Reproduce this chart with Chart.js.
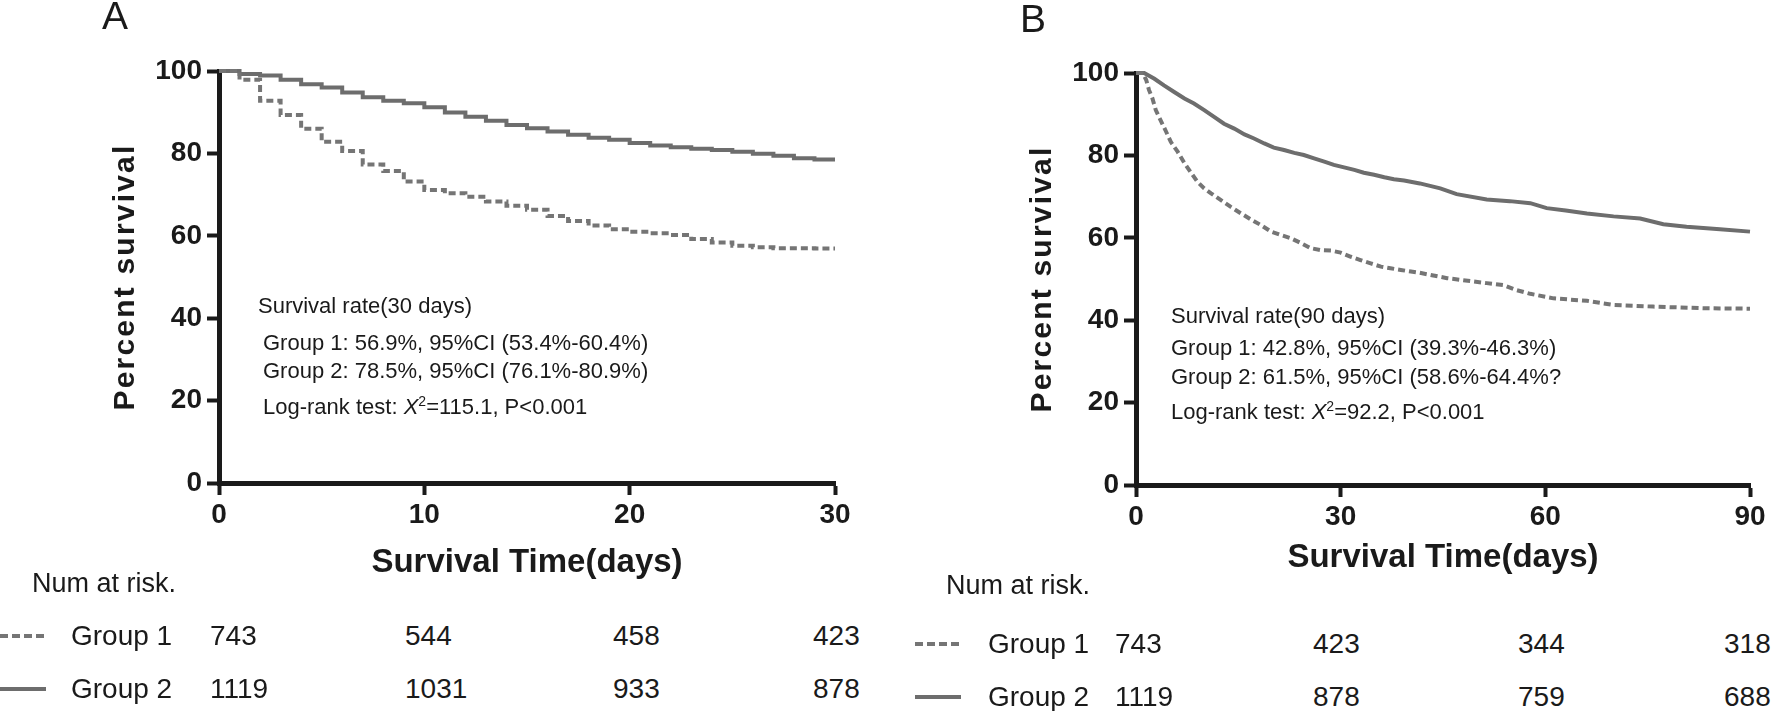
<!DOCTYPE html>
<html>
<head>
<meta charset="utf-8">
<script src="https://cdn.jsdelivr.net/npm/chart.js@4.4.1/dist/chart.umd.min.js"></script>
<style>
  body { margin: 0; background: #fff; width: 1776px; height: 711px; overflow: hidden; position: relative;
         font-family: 'Liberation Sans', Arial, sans-serif; color: #1a1a1a; }
  canvas { position: absolute; top: 0; }
  .t { position: absolute; white-space: nowrap; line-height: 1; }
  .note { font-size: 22px; }
  .head { font-size: 27px; }
  .risk { font-size: 28px; }
  .panel { font-size: 39px; }
  .dash { position: absolute; height: 4px; background: repeating-linear-gradient(90deg, #757575 0 8px, transparent 8px 12px); }
  .solid { position: absolute; height: 4px; background: #6d6d6d; }
</style>
</head>
<body>
<canvas id="chartA" width="880" height="600" style="left:0"></canvas>
<canvas id="chartB" width="876" height="600" style="left:900px"></canvas>
<div id="overlay"></div>
<script>
// panel A, 30 days (steps at whole days)
const daysA = [0, 1, 2, 3, 4, 5, 6, 7, 8, 9, 10, 11, 12, 13, 14, 15, 16, 17, 18, 19, 20, 21, 22, 23, 24, 25, 26, 27, 28, 29, 30];
const group1A = [100, 97.9, 92.8, 89.3, 86.0, 82.8, 80.6, 77.3, 75.7, 73.2, 71.1, 70.3, 69.5, 68.3, 67.3, 66.3, 64.8, 63.6, 62.5, 61.6, 61.0, 60.6, 60.2, 59.2, 58.4, 57.6, 57.2, 57.0, 57.0, 56.9, 56.9];
const group2A = [100, 99.3, 98.9, 97.9, 96.8, 96.0, 94.8, 93.6, 92.8, 92.2, 91.2, 89.9, 88.9, 87.9, 86.9, 86.1, 85.3, 84.5, 83.8, 83.3, 82.5, 81.9, 81.5, 81.1, 80.8, 80.4, 79.9, 79.4, 78.8, 78.5, 78.5];

// panel B, 90 days
const daysB1 = [0, 1.0, 1.5, 1.9, 2.4, 2.9, 3.7, 4.4, 5.1, 6.1, 7.1, 8.1, 9.0, 10.0, 11.0, 12.4, 13.9, 15.4, 16.8, 18.3, 19.8, 21.2, 22.7, 24.2, 25.6, 27.1, 28.6, 30.0, 31.5, 32.9, 34.4, 35.9, 37.3, 38.8, 40.3, 41.6, 45.6, 51.4, 53.9, 55.8, 57.8, 61.2, 66.1, 70.0, 75.8, 83.2, 90];
const group1B = [100, 100, 98.3, 95.9, 93.9, 91.0, 88.2, 85.8, 83.3, 80.9, 78.1, 75.7, 73.6, 72.0, 70.8, 69.2, 67.5, 65.9, 64.5, 63.1, 61.5, 60.7, 59.9, 58.7, 57.5, 57.0, 56.9, 56.4, 55.4, 54.6, 53.8, 53.0, 52.6, 52.2, 51.8, 51.5, 50.2, 49.0, 48.5, 47.3, 46.4, 45.3, 44.7, 43.7, 43.3, 42.9, 42.8];
const daysB2 = [0, 1.2, 2.7, 4.1, 5.6, 7.1, 8.5, 10.0, 11.5, 12.9, 14.4, 15.9, 17.3, 18.8, 20.2, 21.7, 23.2, 24.6, 26.1, 27.6, 29.0, 30.5, 32.0, 33.4, 34.9, 36.4, 37.8, 39.3, 41.6, 44.6, 47.0, 51.4, 54.8, 57.8, 60.2, 63.0, 66.1, 70.0, 73.9, 77.3, 80.7, 85.6, 90];
const group2B = [100, 100, 98.6, 97.0, 95.4, 93.8, 92.6, 91.0, 89.3, 87.7, 86.5, 85.1, 84.1, 82.9, 81.9, 81.3, 80.6, 80.1, 79.3, 78.5, 77.7, 77.1, 76.5, 75.8, 75.3, 74.7, 74.2, 73.9, 73.2, 72.0, 70.6, 69.3, 68.9, 68.4, 67.2, 66.6, 65.9, 65.2, 64.7, 63.3, 62.7, 62.1, 61.5];

// numbers at risk
const riskA1 = [743, 544, 458, 423];
const riskA2 = [1119, 1031, 933, 878];
const riskB1 = [743, 423, 344, 318];
const riskB2 = [1119, 878, 759, 688];

const notesA = ['Survival rate(30 days)', 'Group 1: 56.9%, 95%CI (53.4%-60.4%)', 'Group 2: 78.5%, 95%CI (76.1%-80.9%)', 'Log-rank test: <i>X</i><sup style="font-size:14px">2</sup>=115.1, P&lt;0.001'];
const notesB = ['Survival rate(90 days)', 'Group 1: 42.8%, 95%CI (39.3%-46.3%)', 'Group 2: 61.5%, 95%CI (58.6%-64.4%?', 'Log-rank test: <i>X</i><sup style="font-size:14px">2</sup>=92.2, P&lt;0.001'];

Chart.defaults.font.family = "'Liberation Sans', Arial, sans-serif";
Chart.defaults.color = '#1a1a1a';

// spaced letters on the vertical axis title
const origDrawTitle = Chart.LinearScale.prototype.drawTitle;
Chart.LinearScale.prototype.drawTitle = function () {
  this.ctx.save();
  if (!this.isHorizontal()) this.ctx.letterSpacing = '2.2px';
  origDrawTitle.call(this);
  this.ctx.restore();
};

const toPoints = (days, vals) => days.map((d, i) => ({ x: d, y: vals[i] }));

function makeChart(id, p) {
  return new Chart(document.getElementById(id), {
    type: 'line',
    data: {
      datasets: [{
        label: 'Group 1',
        data: toPoints(p.days1, p.vals1),
        borderColor: '#757575',
        borderWidth: 4,
        borderDash: [7, 4],
        stepped: p.stepped,
        pointRadius: 0,
        clip: false
      }, {
        label: 'Group 2',
        data: toPoints(p.days2, p.vals2),
        borderColor: '#6d6d6d',
        borderWidth: 4,
        stepped: p.stepped,
        pointRadius: 0,
        clip: false
      }]
    },
    options: {
      responsive: false,
      animation: false,
      devicePixelRatio: 1,
      layout: { padding: { top: p.top, right: p.right, left: 0, bottom: 0 } },
      plugins: { legend: { display: false }, tooltip: { enabled: false } },
      scales: {
        x: {
          type: 'linear', min: 0, max: p.xMax,
          afterFit: s => { s.height = p.xHeight; },
          ticks: { stepSize: p.xStep, padding: 3, font: { size: 28, weight: 'bold' }, color: '#1a1a1a' },
          grid: { drawOnChartArea: false, tickLength: 12, tickWidth: 4, tickColor: '#1a1a1a' },
          border: { color: '#1a1a1a', width: 5 },
          title: { display: true, text: 'Survival Time(days)', font: { size: 33, weight: 'bold' }, color: '#1a1a1a', padding: { top: 0, bottom: p.xTitlePad } }
        },
        y: {
          min: 0, max: 100,
          afterFit: s => { s.width = p.yWidth; },
          ticks: { stepSize: 20, padding: 5, font: { size: 28, weight: 'bold' }, color: '#1a1a1a' },
          grid: { drawOnChartArea: false, tickLength: 12, tickWidth: 4, tickColor: '#1a1a1a' },
          border: { color: '#1a1a1a', width: 5 },
          title: { display: true, text: 'Percent survival', font: { size: 30, weight: 'bold' }, color: '#1a1a1a', padding: { top: p.yTitlePad, bottom: 0 } }
        }
      }
    }
  });
}

makeChart('chartA', { days1: daysA, vals1: group1A, days2: daysA, vals2: group2A, stepped: true,
  xMax: 30, xStep: 10, top: 71, right: 45, yWidth: 219, xHeight: 117, xTitlePad: 17, yTitlePad: 108 });
makeChart('chartB', { days1: daysB1, vals1: group1B, days2: daysB2, vals2: group2B, stepped: false,
  xMax: 90, xStep: 30, top: 73, right: 26, yWidth: 236, xHeight: 115, xTitlePad: 22, yTitlePad: 125 });

// text overlays
const overlay = document.getElementById('overlay');
function text(cls, html, left, top) {
  const d = document.createElement('div');
  d.className = 't ' + cls;
  d.innerHTML = html;
  d.style.left = left + 'px';
  d.style.top = top + 'px';
  overlay.appendChild(d);
}
function bar(cls, left, top, width) {
  const d = document.createElement('div');
  d.className = cls;
  d.style.left = left + 'px';
  d.style.top = top + 'px';
  d.style.width = width + 'px';
  overlay.appendChild(d);
}

text('panel', 'A', 102, -4);
text('panel', 'B', 1020, -1);

const noteTopsA = [295, 332, 360, 394];
const noteTopsB = [305, 337, 366, 399];
notesA.forEach((s, i) => text('note', s, i === 0 ? 258 : 263, noteTopsA[i]));
notesB.forEach((s, i) => text('note', s, 1171, noteTopsB[i]));

// risk tables
function riskTable(x0, cols, rows, r1, r2) {
  text('head', 'Num at risk.', x0.title, x0.titleTop);
  bar('dash', x0.line, rows[0] - 2, 46);
  bar('solid', x0.line, rows[1] - 2, 46);
  text('risk', 'Group 1', x0.label, rows[0] - 14);
  text('risk', 'Group 2', x0.label, rows[1] - 14);
  r1.forEach((v, i) => text('risk', v, cols[i], rows[0] - 14));
  r2.forEach((v, i) => text('risk', v, cols[i], rows[1] - 14));
}
riskTable({ title: 32, titleTop: 570, line: 0, label: 71 }, [210, 405, 613, 813], [636, 689], riskA1, riskA2);
riskTable({ title: 946, titleTop: 572, line: 915, label: 988 }, [1115, 1313, 1518, 1724], [644, 697], riskB1, riskB2);
</script>
</body>
</html>
